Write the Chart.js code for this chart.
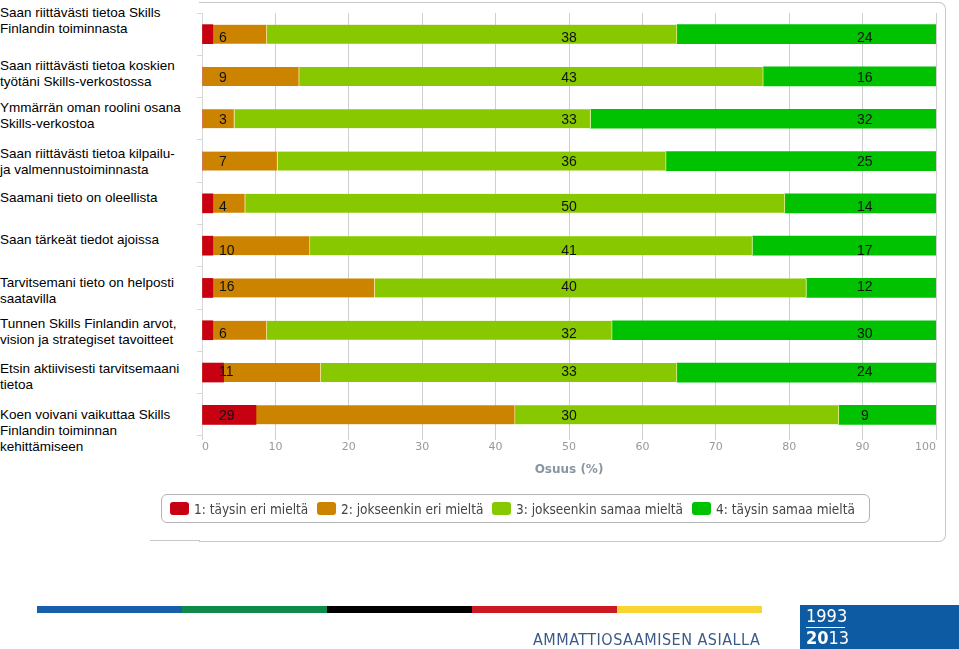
<!DOCTYPE html>
<html><head><meta charset="utf-8">
<script src="https://cdn.jsdelivr.net/npm/chart.js@4"></script>
<style>
body{margin:0;width:959px;height:649px;overflow:hidden;background:#fff;position:relative;font-family:"Liberation Sans",Arial,sans-serif}
#c{position:absolute;left:0;top:0}
.frame{position:absolute;left:199px;top:2px;width:746px;height:538px;border:1px solid #c8c8c8;border-left:none;border-radius:0 7px 7px 0}
.frame2{position:absolute;left:150px;top:540px;width:50px;border-top:1px solid #c8c8c8}
.panel{position:absolute;left:0;top:0;width:196px;height:495px;background:#fff}
.lbl{position:absolute;left:0;font-size:13.5px;line-height:16px;color:#000;white-space:nowrap}
.legend{position:absolute;left:161px;top:494px;width:709px;height:29px;border:1px solid #b4b4b4;border-radius:6px;box-sizing:border-box}
.legend .it{position:absolute;top:0;height:27px;display:flex;align-items:center;white-space:nowrap;font-family:"DejaVu Sans Condensed","DejaVu Sans",sans-serif;font-size:13.5px;color:#444}
.legend .sq{width:19px;height:13px;border-radius:3px;margin-right:5px;flex:none}
.strip{position:absolute;top:606px;height:7px}
.logo{position:absolute;left:800px;top:605px;width:159px;height:44px;background:#0c5ba3}
.tag{position:absolute;left:533px;top:630px;font-family:"Liberation Sans Narrow","DejaVu Sans Condensed",sans-serif;font-size:16px;color:#3b5b86;letter-spacing:0.5px;white-space:nowrap}
</style>
</head><body>
<div class="frame"></div><div class="frame2"></div>
<canvas id="c" width="959" height="649"></canvas>
<div class="panel" id="panel"></div>
<div class="legend" id="legend"></div>
<div class="strip" style="left:37px;width:145px;background:#1560a8"></div>
<div class="strip" style="left:182px;width:145px;background:#0f8a4a"></div>
<div class="strip" style="left:327px;width:145px;background:#000"></div>
<div class="strip" style="left:472px;width:145px;background:#cc1a22"></div>
<div class="strip" style="left:617px;width:145px;background:#f8d532"></div>
<div class="tag">AMMATTIOSAAMISEN ASIALLA</div>
<div class="logo">
  <div style="position:absolute;left:6px;top:1px;color:#fff;font-family:'Liberation Sans Narrow','DejaVu Sans Condensed',sans-serif;font-size:18px;line-height:20px">1993</div>
  <div style="position:absolute;left:6px;top:22px;width:39px;border-top:1px solid #fff"></div>
  <div style="position:absolute;left:6px;top:23px;color:#fff;font-family:'Liberation Sans Narrow','DejaVu Sans Condensed',sans-serif;font-size:18px;line-height:20px"><b>20</b>13</div>
</div>
<script>
// ---- data ----
const categories = [
  ["Saan riittävästi tietoa Skills","Finlandin toiminnasta"],
  ["Saan riittävästi tietoa koskien","työtäni Skills-verkostossa"],
  ["Ymmärrän oman roolini osana","Skills-verkostoa"],
  ["Saan riittävästi tietoa kilpailu-","ja valmennustoiminnasta"],
  ["Saamani tieto on oleellista"],
  ["Saan tärkeät tiedot ajoissa"],
  ["Tarvitsemani tieto on helposti","saatavilla"],
  ["Tunnen Skills Finlandin arvot,","vision ja strategiset tavoitteet"],
  ["Etsin aktiivisesti tarvitsemaani","tietoa"],
  ["Koen voivani vaikuttaa Skills","Finlandin toiminnan","kehittämiseen"]
];
const seriesNames = ["1: täysin eri mieltä","2: jokseenkin eri mieltä","3: jokseenkin samaa mieltä","4: täysin samaa mieltä"];
const fullyDisagree   = [1, 0, 0, 0, 1, 1, 1, 1, 2, 5];
const somewhatDisagree= [6, 9, 3, 7, 4, 10, 16, 6, 11, 29];
const somewhatAgree   = [38, 43, 33, 36, 50, 41, 40, 32, 33, 30];
const fullyAgree      = [24, 16, 32, 25, 14, 17, 12, 30, 24, 9];
const xTicks = [0,10,20,30,40,50,60,70,80,90,100];
const axisTitle = "Osuus (%)";

// ---- styles / layout ----
const colors = ["#c70012","#cc8400","#88c800","#00c200"];
const labelTops = [5,58,100,146,190,232,275,316,361,407];
const labelX = [2.3, 50, 90.3];
const labelDy = [3,1,0,0,2.5,4,-2,3,-1,0];
const legendLefts = [8, 155, 330, 530];

// category labels (HTML text)
const panel = document.getElementById('panel');
categories.forEach((lines,i)=>{
  const d=document.createElement('div'); d.className='lbl'; d.style.top=labelTops[i]+'px';
  d.innerHTML=lines.join('<br>'); panel.appendChild(d);
});
const lg=document.getElementById('legend');
seriesNames.forEach((n,i)=>{
  const it=document.createElement('div'); it.className='it'; it.style.left=legendLefts[i]+'px';
  it.innerHTML='<div class="sq" style="background:'+colors[i]+'"></div><span>'+n+'</span>';
  lg.appendChild(it);
});

const totals = somewhatDisagree.map((v,i)=>v+somewhatAgree[i]+fullyAgree[i]);
const pct = (v,i)=>v/totals[i]*100;
const fl = (arrs)=>categories.map((_,i)=>{
  let s=0; for(let k=0;k<arrs.length-1;k++) s+=pct(arrs[k][i],i);
  return [s, s+pct(arrs[arrs.length-1][i],i)];
});
const dRed = categories.map((_,i)=>[0,pct(fullyDisagree[i],i)]);
const dOr  = fl([somewhatDisagree]);
const dGr  = fl([somewhatDisagree,somewhatAgree]);
const dDg  = fl([somewhatDisagree,somewhatAgree,fullyAgree]);

const valueLabels={
  id:'valueLabels',
  afterDatasetsDraw(chart){
    const {ctx,scales:{x,y}}=chart;
    ctx.save();
    ctx.font='14px "Liberation Sans", Arial, sans-serif';
    ctx.fillStyle='#111'; ctx.textBaseline='middle';
    [[somewhatDisagree,'left'],[somewhatAgree,'center'],[fullyAgree,'center']].forEach(([arr,al],k)=>{
      ctx.textAlign=al;
      arr.forEach((v,i)=>{
        ctx.fillText(String(v), x.getPixelForValue(labelX[k]), y.getPixelForValue(i)+labelDy[i]+1);
      });
    });
    ctx.restore();
  }
};

new Chart(document.getElementById('c'),{
  type:'bar',
  data:{
    labels:categories.map(c=>c.join(' ')),
    datasets:[
      {label:seriesNames[0],data:dRed,backgroundColor:colors[0]},
      {label:seriesNames[1],data:dOr,backgroundColor:colors[1],borderColor:'#f0e090',borderWidth:{right:1}},
      {label:seriesNames[2],data:dGr,backgroundColor:colors[2],borderColor:'#e0f0a0',borderWidth:{right:1}},
      {label:seriesNames[3],data:dDg,backgroundColor:colors[3]}
    ]
  },
  options:{
    indexAxis:'y',responsive:false,animation:false,
    layout:{padding:{left:197,right:23,top:13,bottom:169}},
    datasets:{bar:{grouped:false,barThickness:19,borderSkipped:false}},
    plugins:{legend:{display:false},tooltip:{enabled:false}},
    scales:{
      x:{type:'linear',min:0,max:100,
        afterBuildTicks(s){s.ticks=xTicks.map(v=>({value:v}));},
        afterFit(s){s.height=44;},
        grid:{color:'#cfcfcf',tickLength:4},
        border:{display:false},
        ticks:{align:'inner',padding:1,color:'#999',font:{family:'"DejaVu Sans"',size:11}},
        title:{display:true,text:axisTitle,color:'#8a95a2',font:{family:'"DejaVu Sans"',size:12,weight:'bold'},padding:{top:4,bottom:3}}
      },
      y:{afterFit(s){s.width=5;},
        ticks:{display:false},
        grid:{drawOnChartArea:false,tickLength:5,color:'#d8d8d8'},
        border:{display:true,color:'#d8d8d8'}
      }
    }
  },
  plugins:[valueLabels]
});
</script>
</body></html>
